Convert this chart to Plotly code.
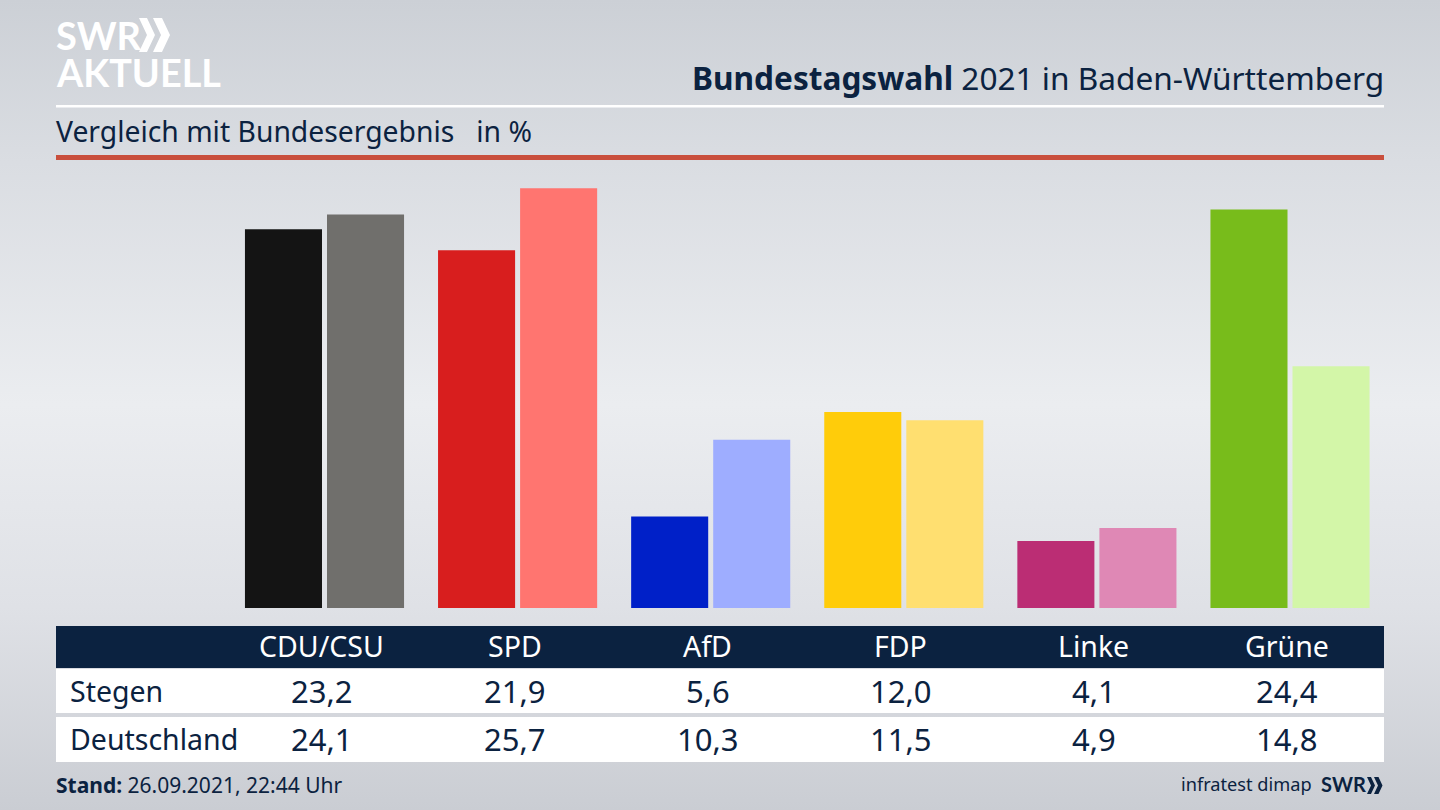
import base64
import plotly.graph_objects as go

parties = ["CDU/CSU", "SPD", "AfD", "FDP", "Linke", "Grüne"]
stegen = [23.2, 21.9, 5.6, 12.0, 4.1, 24.4]
deutschland = [24.1, 25.7, 10.3, 11.5, 4.9, 14.8]
stegen_colors = ["#141414", "#d81e1e", "#0020c8", "#ffcc0a", "#bb2d74", "#78bc1b"]
deutschland_colors = ["#706f6c", "#ff7570", "#9eadff", "#ffdf70", "#df88b5", "#d3f6a8"]
row_labels = ["Stegen", "Deutschland"]

W, H = 1440, 810
NAVY = "#0b2240"
FONT = "Noto Sans"
LOGO = "Lato"
def px(x): return x / W
def py(y): return 1 - y / H

svg = f'''<svg xmlns="http://www.w3.org/2000/svg" width="{W}" height="{H}">
<defs><linearGradient id="g" x1="0" y1="0" x2="0" y2="1">
<stop offset="0" stop-color="#ccd0d6"/><stop offset="0.2" stop-color="#dadde2"/>
<stop offset="0.5" stop-color="#ebedf0"/><stop offset="0.75" stop-color="#dfe1e6"/>
<stop offset="1" stop-color="#cacdd3"/></linearGradient></defs>
<rect width="{W}" height="{H}" fill="url(#g)"/></svg>'''
bg = "data:image/svg+xml;base64," + base64.b64encode(svg.encode()).decode()

CENTER0, STEP = 324.5, 193.1
x_left = (56 - CENTER0) / STEP
x_right = (1384 - CENTER0) / STEP
BASE, TOP = 608, 165
UNIT = 16.33

fig = go.Figure()
fig.add_bar(x=parties, y=stegen, name="Stegen", marker=dict(color=stegen_colors, line_width=0), hoverinfo="x+y")
fig.add_bar(x=parties, y=deutschland, name="Deutschland", marker=dict(color=deutschland_colors, line_width=0), hoverinfo="x+y")

shapes = []
def rect(x0, y0, x1, y1, c):
    shapes.append(dict(type="rect", xref="paper", yref="paper", x0=px(x0), x1=px(x1), y0=py(y1), y1=py(y0),
                       fillcolor=c, line_width=0, layer="below"))
rect(56, 105, 1384, 107.5, "#ffffff")
rect(56, 155, 1384, 160, "#c94f3d")
rect(56, 626, 1384, 668, NAVY)
rect(56, 669, 1384, 713, "#ffffff")
rect(56, 717, 1384, 762, "#ffffff")

def chevrons(x, y, s, c):
    # two solid chevrons of the SWR wordmark, in pixels of the 1440x810 page
    for pts in ([(0, 0), (8, 0), (16, 17), (8, 34), (0, 34), (8, 17)],
                [(14, 0), (23, 0), (31, 17), (23, 34), (14, 34), (22, 17)]):
        path = "M" + " L".join(f"{px(x + a * s):.5f},{py(y + b * s):.5f}" for a, b in pts) + " Z"
        shapes.append(dict(type="path", xref="paper", yref="paper", path=path, fillcolor=c, line_width=0))
chevrons(139, 18, 1.0, "#ffffff")
chevrons(1367, 777, 0.5, NAVY)

ann = []
def text(x, y, s, size, color=NAVY, anchor="left", xref="paper", family=FONT, shift=0):
    ann.append(dict(x=px(x) if xref == "paper" else x, y=py(y), xref=xref, yref="paper", text=s, showarrow=False,
                    xanchor=anchor, yanchor="middle", align=anchor, xshift=shift, borderpad=0, borderwidth=0,
                    font=dict(family=family, size=size, color=color)))

text(56, 35, "<b>SWR</b>", 38, "#ffffff", family=LOGO)
text(56, 72, "<b>AKTUELL</b>", 37.8, "#ffffff", family=LOGO)
text(1384, 77, "<b>Bundestagswahl</b> 2021 in Baden-Württemberg", 31.6, anchor="right")
text(56, 131.5, "Vergleich mit Bundesergebnis   in %", 28.3)
for p, a, b in zip(parties, stegen, deutschland):
    text(p, 646, p, 28.5, "#ffffff", "center", "x", shift=-3)
    text(p, 690.5, f"{a:.1f}".replace(".", ","), 31, NAVY, "center", "x", shift=-3)
    text(p, 739, f"{b:.1f}".replace(".", ","), 31, NAVY, "center", "x", shift=-3)
text(70, 690.5, row_labels[0], 28.5)
text(70, 739, row_labels[1], 28.5)
text(56, 785, "<b>Stand:</b> 26.09.2021, 22:44 Uhr", 21)
text(1312, 784, "infratest dimap", 18.2, anchor="right")
text(1366, 784, "<b>SWR</b>", 20, anchor="right", family=LOGO)

fig.update_layout(
    width=W, height=H, margin=dict(l=0, r=0, t=0, b=0),
    paper_bgcolor="#e4e6e9", plot_bgcolor="rgba(0,0,0,0)", showlegend=False,
    barmode="group", bargap=29 / STEP, bargroupgap=5 / 82,
    xaxis=dict(domain=[px(56), px(1384)], range=[x_left, x_right], showticklabels=False,
               showgrid=False, zeroline=False, ticks="", showline=False, fixedrange=True),
    yaxis=dict(domain=[py(BASE), py(TOP)], range=[0, (BASE - TOP) / UNIT], showticklabels=False,
               showgrid=False, zeroline=False, ticks="", showline=False, fixedrange=True),
    shapes=shapes, annotations=ann,
    images=[dict(source=bg, xref="paper", yref="paper", x=0, y=1, sizex=1, sizey=1,
                 sizing="stretch", xanchor="left", yanchor="top", layer="below")],
)
fig.write_html("out.html", config={"displayModeBar": False},
               post_script="document.body.style.margin='0';document.body.style.overflow='hidden';")
